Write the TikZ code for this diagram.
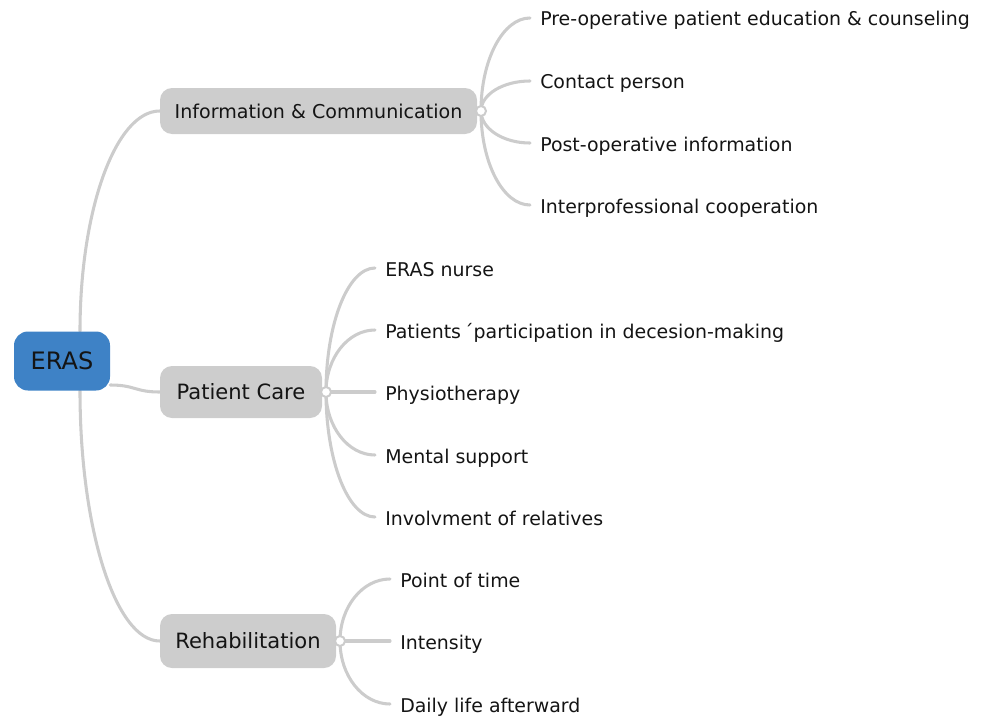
\documentclass[tikz,border=0pt]{standalone}
\usepackage{fontspec}
\setmainfont{DejaVu Sans}
\usetikzlibrary{calc}
\definecolor{erasblue}{HTML}{3E82C6}
\definecolor{boxgray}{HTML}{CDCDCD}
\definecolor{linegray}{HTML}{CCCCCC}
\definecolor{txt}{HTML}{141414}
\pgfdeclarelayer{bg}
\pgfsetlayers{bg,main}
\tikzset{
  rootbox/.style={draw=none, fill=erasblue, rounded corners=10.5pt, text=txt,
    font=\fontsize{18}{20}\selectfont, inner sep=0pt},
  branchbox/.style={draw=none, fill=boxgray, rounded corners=9pt, text=txt, inner sep=0pt},
  leaftext/.style={anchor=west, inner xsep=7.5pt, inner ysep=0pt, text=txt,
    font=\fontsize{14.2}{16}\selectfont, text height=12pt, text depth=0pt},
  knob/.style={circle, draw=linegray, fill=white, line width=1.5pt, inner sep=0pt, minimum size=7.5pt},
  conn/.style={draw=linegray, line width=2.3pt, line cap=round},
}
\begin{document}
\begin{tikzpicture}[x=0.75pt, y=-0.75pt]
\useasboundingbox (0,0) rectangle (984,717);

% root
\node[rootbox, minimum width=72pt, minimum height=44.25pt] (eras) at (62,361) {ERAS};

% branches
\node[branchbox, minimum width=237.75pt, minimum height=34.5pt,
  font=\fontsize{14.3}{16}\selectfont] (info) at (318.5,111) {Information \& Communication};
\node[branchbox, minimum width=121.5pt, minimum height=39pt,
  font=\fontsize{15.8}{18}\selectfont] (care) at (241,392) {Patient Care};
\node[branchbox, minimum width=132pt, minimum height=40.5pt,
  font=\fontsize{15.8}{18}\selectfont] (rehab) at (248,641) {Rehabilitation};

% knobs
\node[knob] (ik) at (481,111) {};
\node[knob] (ck) at (326,392) {};
\node[knob] (rk) at (340,641) {};

% leaves: information
\node[leaftext] (i1) at (530,18) {Pre-operative patient education \& counseling};
\node[leaftext] (i2) at (530,81) {Contact person};
\node[leaftext] (i3) at (530,143) {Post-operative information};
\node[leaftext] (i4) at (530,205) {Interprofessional cooperation};

% leaves: patient care
\node[leaftext] (c1) at (375,268) {ERAS nurse};
\node[leaftext] (c2) at (375,330) {Patients\,´participation in decesion-making};
\node[leaftext] (c3) at (375,392) {Physiotherapy};
\node[leaftext] (c4) at (375,455) {Mental support};
\node[leaftext] (c5) at (375,517) {Involvment of relatives};

% leaves: rehabilitation
\node[leaftext] (r1) at (390,579) {Point of time};
\node[leaftext] (r2) at (390,641) {Intensity};
\node[leaftext] (r3) at (390,704) {Daily life afterward};

\begin{pgfonlayer}{bg}
  % root connectors
  \draw[conn] ($(eras.north)+(18,0)$) .. controls +(0,-121.5) and +(-44,0) .. (info.west);
  \draw[conn] ($(eras.south)+(18,0)$) .. controls +(0,138.6) and +(-44,0) .. (rehab.west);
  \draw[conn] ($(eras.east)+(0,24)$) .. controls +(25,0) and +(-25,0) .. (care.west);

  % information leaves
  \draw[conn] (ik.center) .. controls +(0,-51.4) and +(-27,0) .. (i1.west);
  \draw[conn] (ik.center) .. controls +(0,-16.6) and +(-27,0) .. (i2.west);
  \draw[conn] (ik.center) .. controls +(0,17.7) and +(-27,0) .. (i3.west);
  \draw[conn] (ik.center) .. controls +(0,52) and +(-27,0) .. (i4.west);

  % patient care leaves
  \draw[conn] (ck.center) .. controls +(0,-68.5) and +(-27,0) .. (c1.west);
  \draw[conn] (ck.center) .. controls +(0,-34.2) and +(-27,0) .. (c2.west);
  \draw[conn] (ck.center) -- (c3.west);
  \draw[conn] (ck.center) .. controls +(0,34.8) and +(-27,0) .. (c4.west);
  \draw[conn] (ck.center) .. controls +(0,69) and +(-27,0) .. (c5.west);

  % rehabilitation leaves
  \draw[conn] (rk.center) .. controls +(0,-34.2) and +(-27.6,0) .. (r1.west);
  \draw[conn] (rk.center) -- (r2.west);
  \draw[conn] (rk.center) .. controls +(0,34.8) and +(-27.6,0) .. (r3.west);
\end{pgfonlayer}
\end{tikzpicture}
\end{document}
